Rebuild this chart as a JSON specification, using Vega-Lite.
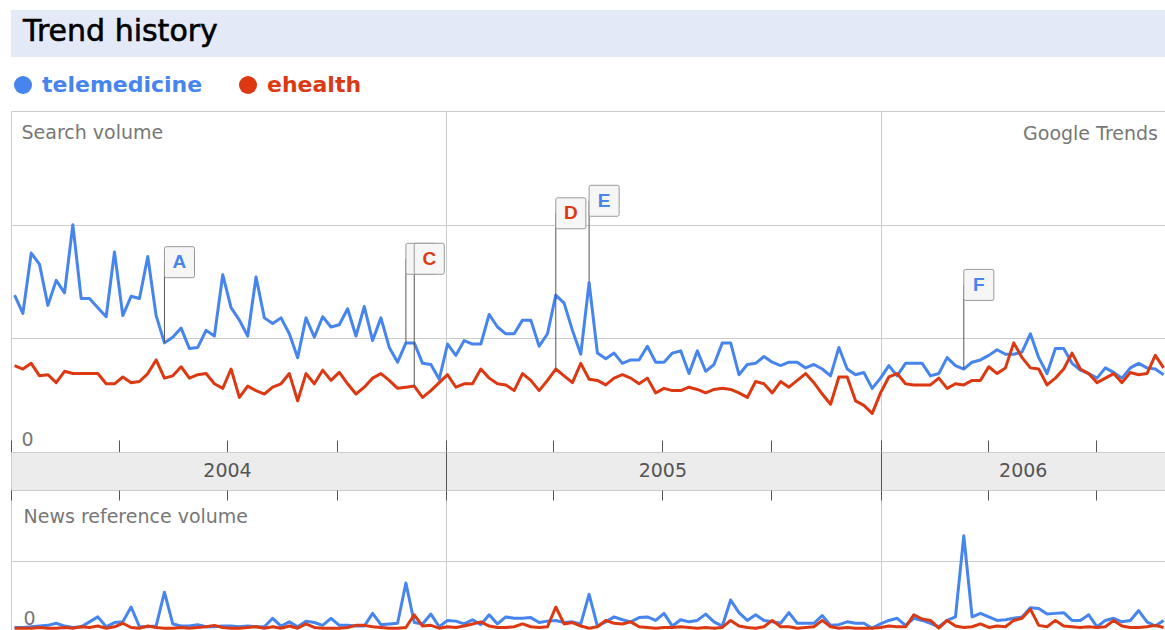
{
"$schema": "https://vega.github.io/schema/vega-lite/v6.json",
"padding": {"left": 10, "top": 10, "right": 0, "bottom": 0},
"background": "white",
"config": {"font": "DejaVu Sans", "view": {"stroke": "#cccccc"}, "axis": {"labelFont": "DejaVu Sans", "titleFont": "DejaVu Sans"}},
"datasets": {
"search": [
{"w":"2004-01-04","telemedicine":1.38,"ehealth":0.76},{"w":"2004-01-11","telemedicine":1.22,"ehealth":0.73},{"w":"2004-01-18","telemedicine":1.75,"ehealth":0.78},{"w":"2004-01-25","telemedicine":1.65,"ehealth":0.67},
{"w":"2004-02-01","telemedicine":1.29,"ehealth":0.68},{"w":"2004-02-08","telemedicine":1.51,"ehealth":0.61},{"w":"2004-02-15","telemedicine":1.40,"ehealth":0.71},{"w":"2004-02-22","telemedicine":2.00,"ehealth":0.69},{"w":"2004-02-29","telemedicine":1.35,"ehealth":0.69},
{"w":"2004-03-07","telemedicine":1.35,"ehealth":0.69},{"w":"2004-03-14","telemedicine":1.27,"ehealth":0.69},{"w":"2004-03-21","telemedicine":1.19,"ehealth":0.60},{"w":"2004-03-28","telemedicine":1.76,"ehealth":0.60},
{"w":"2004-04-04","telemedicine":1.20,"ehealth":0.66},{"w":"2004-04-11","telemedicine":1.37,"ehealth":0.61},{"w":"2004-04-18","telemedicine":1.35,"ehealth":0.62},{"w":"2004-04-25","telemedicine":1.72,"ehealth":0.69},
{"w":"2004-05-02","telemedicine":1.20,"ehealth":0.81},{"w":"2004-05-09","telemedicine":0.96,"ehealth":0.65},{"w":"2004-05-16","telemedicine":1.01,"ehealth":0.67},{"w":"2004-05-23","telemedicine":1.09,"ehealth":0.75},{"w":"2004-05-30","telemedicine":0.91,"ehealth":0.65},
{"w":"2004-06-06","telemedicine":0.92,"ehealth":0.68},{"w":"2004-06-13","telemedicine":1.07,"ehealth":0.69},{"w":"2004-06-20","telemedicine":1.02,"ehealth":0.60},{"w":"2004-06-27","telemedicine":1.56,"ehealth":0.56},
{"w":"2004-07-04","telemedicine":1.27,"ehealth":0.73},{"w":"2004-07-11","telemedicine":1.16,"ehealth":0.48},{"w":"2004-07-18","telemedicine":1.02,"ehealth":0.58},{"w":"2004-07-25","telemedicine":1.54,"ehealth":0.54},
{"w":"2004-08-01","telemedicine":1.18,"ehealth":0.51},{"w":"2004-08-08","telemedicine":1.13,"ehealth":0.57},{"w":"2004-08-15","telemedicine":1.18,"ehealth":0.60},{"w":"2004-08-22","telemedicine":1.04,"ehealth":0.69},{"w":"2004-08-29","telemedicine":0.83,"ehealth":0.45},
{"w":"2004-09-05","telemedicine":1.18,"ehealth":0.69},{"w":"2004-09-12","telemedicine":1.01,"ehealth":0.60},{"w":"2004-09-19","telemedicine":1.19,"ehealth":0.72},{"w":"2004-09-26","telemedicine":1.10,"ehealth":0.63},
{"w":"2004-10-03","telemedicine":1.12,"ehealth":0.70},{"w":"2004-10-10","telemedicine":1.26,"ehealth":0.60},{"w":"2004-10-17","telemedicine":1.02,"ehealth":0.51},{"w":"2004-10-24","telemedicine":1.28,"ehealth":0.57},{"w":"2004-10-31","telemedicine":0.98,"ehealth":0.65},
{"w":"2004-11-07","telemedicine":1.18,"ehealth":0.69},{"w":"2004-11-14","telemedicine":0.92,"ehealth":0.63},{"w":"2004-11-21","telemedicine":0.79,"ehealth":0.56},{"w":"2004-11-28","telemedicine":0.96,"ehealth":0.57},
{"w":"2004-12-05","telemedicine":0.96,"ehealth":0.58},{"w":"2004-12-12","telemedicine":0.78,"ehealth":0.48},{"w":"2004-12-19","telemedicine":0.77,"ehealth":0.54},{"w":"2004-12-26","telemedicine":0.64,"ehealth":0.61},
{"w":"2005-01-02","telemedicine":0.95,"ehealth":0.68},{"w":"2005-01-09","telemedicine":0.85,"ehealth":0.57},{"w":"2005-01-16","telemedicine":0.98,"ehealth":0.60},{"w":"2005-01-23","telemedicine":0.95,"ehealth":0.60},{"w":"2005-01-30","telemedicine":0.95,"ehealth":0.73},
{"w":"2005-02-06","telemedicine":1.21,"ehealth":0.65},{"w":"2005-02-13","telemedicine":1.10,"ehealth":0.60},{"w":"2005-02-20","telemedicine":1.04,"ehealth":0.59},{"w":"2005-02-27","telemedicine":1.04,"ehealth":0.54},
{"w":"2005-03-06","telemedicine":1.16,"ehealth":0.69},{"w":"2005-03-13","telemedicine":1.16,"ehealth":0.63},{"w":"2005-03-20","telemedicine":0.93,"ehealth":0.54},{"w":"2005-03-27","telemedicine":1.04,"ehealth":0.63},
{"w":"2005-04-03","telemedicine":1.38,"ehealth":0.73},{"w":"2005-04-10","telemedicine":1.31,"ehealth":0.67},{"w":"2005-04-17","telemedicine":1.07,"ehealth":0.61},{"w":"2005-04-24","telemedicine":0.86,"ehealth":0.78},
{"w":"2005-05-01","telemedicine":1.49,"ehealth":0.64},{"w":"2005-05-08","telemedicine":0.87,"ehealth":0.63},{"w":"2005-05-15","telemedicine":0.82,"ehealth":0.59},{"w":"2005-05-22","telemedicine":0.87,"ehealth":0.65},{"w":"2005-05-29","telemedicine":0.78,"ehealth":0.68},
{"w":"2005-06-05","telemedicine":0.81,"ehealth":0.65},{"w":"2005-06-12","telemedicine":0.81,"ehealth":0.60},{"w":"2005-06-19","telemedicine":0.93,"ehealth":0.65},{"w":"2005-06-26","telemedicine":0.79,"ehealth":0.52},
{"w":"2005-07-03","telemedicine":0.79,"ehealth":0.56},{"w":"2005-07-10","telemedicine":0.87,"ehealth":0.54},{"w":"2005-07-17","telemedicine":0.89,"ehealth":0.54},{"w":"2005-07-24","telemedicine":0.69,"ehealth":0.57},{"w":"2005-07-31","telemedicine":0.89,"ehealth":0.55},
{"w":"2005-08-07","telemedicine":0.71,"ehealth":0.52},{"w":"2005-08-14","telemedicine":0.77,"ehealth":0.55},{"w":"2005-08-21","telemedicine":0.96,"ehealth":0.56},{"w":"2005-08-28","telemedicine":0.96,"ehealth":0.55},
{"w":"2005-09-04","telemedicine":0.68,"ehealth":0.52},{"w":"2005-09-11","telemedicine":0.77,"ehealth":0.48},{"w":"2005-09-18","telemedicine":0.78,"ehealth":0.62},{"w":"2005-09-25","telemedicine":0.84,"ehealth":0.60},
{"w":"2005-10-02","telemedicine":0.79,"ehealth":0.52},{"w":"2005-10-09","telemedicine":0.76,"ehealth":0.62},{"w":"2005-10-16","telemedicine":0.79,"ehealth":0.57},{"w":"2005-10-23","telemedicine":0.79,"ehealth":0.63},{"w":"2005-10-30","telemedicine":0.74,"ehealth":0.69},
{"w":"2005-11-06","telemedicine":0.77,"ehealth":0.61},{"w":"2005-11-13","telemedicine":0.73,"ehealth":0.51},{"w":"2005-11-20","telemedicine":0.67,"ehealth":0.42},{"w":"2005-11-27","telemedicine":0.92,"ehealth":0.66},
{"w":"2005-12-04","telemedicine":0.73,"ehealth":0.66},{"w":"2005-12-11","telemedicine":0.68,"ehealth":0.45},{"w":"2005-12-18","telemedicine":0.70,"ehealth":0.41},{"w":"2005-12-25","telemedicine":0.56,"ehealth":0.34},
{"w":"2006-01-01","telemedicine":0.65,"ehealth":0.52},{"w":"2006-01-08","telemedicine":0.76,"ehealth":0.66},{"w":"2006-01-15","telemedicine":0.67,"ehealth":0.69},{"w":"2006-01-22","telemedicine":0.78,"ehealth":0.60},{"w":"2006-01-29","telemedicine":0.78,"ehealth":0.59},
{"w":"2006-02-05","telemedicine":0.78,"ehealth":0.59},{"w":"2006-02-12","telemedicine":0.67,"ehealth":0.59},{"w":"2006-02-19","telemedicine":0.69,"ehealth":0.65},{"w":"2006-02-26","telemedicine":0.83,"ehealth":0.56},
{"w":"2006-03-05","telemedicine":0.76,"ehealth":0.60},{"w":"2006-03-12","telemedicine":0.73,"ehealth":0.59},{"w":"2006-03-19","telemedicine":0.79,"ehealth":0.63},{"w":"2006-03-26","telemedicine":0.81,"ehealth":0.63},
{"w":"2006-04-02","telemedicine":0.85,"ehealth":0.75},{"w":"2006-04-09","telemedicine":0.90,"ehealth":0.69},{"w":"2006-04-16","telemedicine":0.86,"ehealth":0.74},{"w":"2006-04-23","telemedicine":0.86,"ehealth":0.96},{"w":"2006-04-30","telemedicine":0.88,"ehealth":0.83},
{"w":"2006-05-07","telemedicine":1.04,"ehealth":0.74},{"w":"2006-05-14","telemedicine":0.83,"ehealth":0.73},{"w":"2006-05-21","telemedicine":0.69,"ehealth":0.59},{"w":"2006-05-28","telemedicine":0.91,"ehealth":0.65},
{"w":"2006-06-04","telemedicine":0.91,"ehealth":0.73},{"w":"2006-06-11","telemedicine":0.78,"ehealth":0.87},{"w":"2006-06-18","telemedicine":0.72,"ehealth":0.73},{"w":"2006-06-25","telemedicine":0.69,"ehealth":0.69},
{"w":"2006-07-02","telemedicine":0.65,"ehealth":0.61},{"w":"2006-07-09","telemedicine":0.74,"ehealth":0.65},{"w":"2006-07-16","telemedicine":0.70,"ehealth":0.69},{"w":"2006-07-23","telemedicine":0.65,"ehealth":0.61},{"w":"2006-07-30","telemedicine":0.74,"ehealth":0.70},
{"w":"2006-08-06","telemedicine":0.78,"ehealth":0.68},{"w":"2006-08-13","telemedicine":0.74,"ehealth":0.69},{"w":"2006-08-20","telemedicine":0.73,"ehealth":0.85},{"w":"2006-08-27","telemedicine":0.68,"ehealth":0.74}
],
"news": [
{"w":"2004-01-04","telemedicine":0.05,"ehealth":0.04},{"w":"2004-01-11","telemedicine":0.05,"ehealth":0.04},{"w":"2004-01-18","telemedicine":0.06,"ehealth":0.04},{"w":"2004-01-25","telemedicine":0.07,"ehealth":0.05},
{"w":"2004-02-01","telemedicine":0.08,"ehealth":0.04},{"w":"2004-02-08","telemedicine":0.11,"ehealth":0.04},{"w":"2004-02-15","telemedicine":0.07,"ehealth":0.05},{"w":"2004-02-22","telemedicine":0.05,"ehealth":0.04},{"w":"2004-02-29","telemedicine":0.06,"ehealth":0.06},
{"w":"2004-03-07","telemedicine":0.13,"ehealth":0.05},{"w":"2004-03-14","telemedicine":0.20,"ehealth":0.07},{"w":"2004-03-21","telemedicine":0.06,"ehealth":0.04},{"w":"2004-03-28","telemedicine":0.12,"ehealth":0.06},
{"w":"2004-04-04","telemedicine":0.13,"ehealth":0.11},{"w":"2004-04-11","telemedicine":0.34,"ehealth":0.05},{"w":"2004-04-18","telemedicine":0.06,"ehealth":0.04},{"w":"2004-04-25","telemedicine":0.06,"ehealth":0.07},
{"w":"2004-05-02","telemedicine":0.07,"ehealth":0.05},{"w":"2004-05-09","telemedicine":0.55,"ehealth":0.04},{"w":"2004-05-16","telemedicine":0.10,"ehealth":0.04},{"w":"2004-05-23","telemedicine":0.07,"ehealth":0.05},{"w":"2004-05-30","telemedicine":0.07,"ehealth":0.04},
{"w":"2004-06-06","telemedicine":0.09,"ehealth":0.05},{"w":"2004-06-13","telemedicine":0.06,"ehealth":0.06},{"w":"2004-06-20","telemedicine":0.06,"ehealth":0.08},{"w":"2004-06-27","telemedicine":0.07,"ehealth":0.05},
{"w":"2004-07-04","telemedicine":0.07,"ehealth":0.04},{"w":"2004-07-11","telemedicine":0.06,"ehealth":0.04},{"w":"2004-07-18","telemedicine":0.07,"ehealth":0.05},{"w":"2004-07-25","telemedicine":0.06,"ehealth":0.06},
{"w":"2004-08-01","telemedicine":0.06,"ehealth":0.04},{"w":"2004-08-08","telemedicine":0.18,"ehealth":0.06},{"w":"2004-08-15","telemedicine":0.07,"ehealth":0.04},{"w":"2004-08-22","telemedicine":0.13,"ehealth":0.07},{"w":"2004-08-29","telemedicine":0.06,"ehealth":0.04},
{"w":"2004-09-05","telemedicine":0.14,"ehealth":0.10},{"w":"2004-09-12","telemedicine":0.12,"ehealth":0.05},{"w":"2004-09-19","telemedicine":0.08,"ehealth":0.04},{"w":"2004-09-26","telemedicine":0.18,"ehealth":0.04},
{"w":"2004-10-03","telemedicine":0.08,"ehealth":0.04},{"w":"2004-10-10","telemedicine":0.08,"ehealth":0.05},{"w":"2004-10-17","telemedicine":0.07,"ehealth":0.08},{"w":"2004-10-24","telemedicine":0.07,"ehealth":0.08},{"w":"2004-10-31","telemedicine":0.25,"ehealth":0.06},
{"w":"2004-11-07","telemedicine":0.09,"ehealth":0.05},{"w":"2004-11-14","telemedicine":0.10,"ehealth":0.04},{"w":"2004-11-21","telemedicine":0.11,"ehealth":0.04},{"w":"2004-11-28","telemedicine":0.68,"ehealth":0.05},
{"w":"2004-12-05","telemedicine":0.12,"ehealth":0.23},{"w":"2004-12-12","telemedicine":0.10,"ehealth":0.07},{"w":"2004-12-19","telemedicine":0.24,"ehealth":0.08},{"w":"2004-12-26","telemedicine":0.06,"ehealth":0.04},
{"w":"2005-01-02","telemedicine":0.15,"ehealth":0.06},{"w":"2005-01-09","telemedicine":0.14,"ehealth":0.05},{"w":"2005-01-16","telemedicine":0.10,"ehealth":0.07},{"w":"2005-01-23","telemedicine":0.16,"ehealth":0.10},{"w":"2005-01-30","telemedicine":0.09,"ehealth":0.13},
{"w":"2005-02-06","telemedicine":0.23,"ehealth":0.07},{"w":"2005-02-13","telemedicine":0.10,"ehealth":0.05},{"w":"2005-02-20","telemedicine":0.20,"ehealth":0.05},{"w":"2005-02-27","telemedicine":0.18,"ehealth":0.06},
{"w":"2005-03-06","telemedicine":0.18,"ehealth":0.10},{"w":"2005-03-13","telemedicine":0.19,"ehealth":0.06},{"w":"2005-03-20","telemedicine":0.12,"ehealth":0.05},{"w":"2005-03-27","telemedicine":0.14,"ehealth":0.06},
{"w":"2005-04-03","telemedicine":0.15,"ehealth":0.34},{"w":"2005-04-10","telemedicine":0.12,"ehealth":0.10},{"w":"2005-04-17","telemedicine":0.13,"ehealth":0.12},{"w":"2005-04-24","telemedicine":0.10,"ehealth":0.07},
{"w":"2005-05-01","telemedicine":0.52,"ehealth":0.04},{"w":"2005-05-08","telemedicine":0.07,"ehealth":0.06},{"w":"2005-05-15","telemedicine":0.13,"ehealth":0.15},{"w":"2005-05-22","telemedicine":0.20,"ehealth":0.11},{"w":"2005-05-29","telemedicine":0.16,"ehealth":0.10},
{"w":"2005-06-05","telemedicine":0.13,"ehealth":0.13},{"w":"2005-06-12","telemedicine":0.19,"ehealth":0.06},{"w":"2005-06-19","telemedicine":0.20,"ehealth":0.05},{"w":"2005-06-26","telemedicine":0.15,"ehealth":0.04},
{"w":"2005-07-03","telemedicine":0.25,"ehealth":0.05},{"w":"2005-07-10","telemedicine":0.07,"ehealth":0.05},{"w":"2005-07-17","telemedicine":0.16,"ehealth":0.06},{"w":"2005-07-24","telemedicine":0.13,"ehealth":0.05},{"w":"2005-07-31","telemedicine":0.15,"ehealth":0.04},
{"w":"2005-08-07","telemedicine":0.24,"ehealth":0.05},{"w":"2005-08-14","telemedicine":0.13,"ehealth":0.04},{"w":"2005-08-21","telemedicine":0.07,"ehealth":0.05},{"w":"2005-08-28","telemedicine":0.44,"ehealth":0.15},
{"w":"2005-09-04","telemedicine":0.26,"ehealth":0.07},{"w":"2005-09-11","telemedicine":0.15,"ehealth":0.05},{"w":"2005-09-18","telemedicine":0.23,"ehealth":0.04},{"w":"2005-09-25","telemedicine":0.15,"ehealth":0.06},
{"w":"2005-10-02","telemedicine":0.13,"ehealth":0.15},{"w":"2005-10-09","telemedicine":0.11,"ehealth":0.06},{"w":"2005-10-16","telemedicine":0.26,"ehealth":0.06},{"w":"2005-10-23","telemedicine":0.11,"ehealth":0.04},{"w":"2005-10-30","telemedicine":0.11,"ehealth":0.05},
{"w":"2005-11-06","telemedicine":0.11,"ehealth":0.06},{"w":"2005-11-13","telemedicine":0.22,"ehealth":0.15},{"w":"2005-11-20","telemedicine":0.08,"ehealth":0.06},{"w":"2005-11-27","telemedicine":0.09,"ehealth":0.04},
{"w":"2005-12-04","telemedicine":0.13,"ehealth":0.05},{"w":"2005-12-11","telemedicine":0.11,"ehealth":0.04},{"w":"2005-12-18","telemedicine":0.11,"ehealth":0.04},{"w":"2005-12-25","telemedicine":0.04,"ehealth":0.04},
{"w":"2006-01-01","telemedicine":0.10,"ehealth":0.05},{"w":"2006-01-08","telemedicine":0.15,"ehealth":0.07},{"w":"2006-01-15","telemedicine":0.18,"ehealth":0.06},{"w":"2006-01-22","telemedicine":0.08,"ehealth":0.06},{"w":"2006-01-29","telemedicine":0.18,"ehealth":0.23},
{"w":"2006-02-05","telemedicine":0.15,"ehealth":0.17},{"w":"2006-02-12","telemedicine":0.11,"ehealth":0.15},{"w":"2006-02-19","telemedicine":0.06,"ehealth":0.04},{"w":"2006-02-26","telemedicine":0.15,"ehealth":0.15},
{"w":"2006-03-05","telemedicine":0.20,"ehealth":0.07},{"w":"2006-03-12","telemedicine":1.35,"ehealth":0.05},{"w":"2006-03-19","telemedicine":0.20,"ehealth":0.06},{"w":"2006-03-26","telemedicine":0.25,"ehealth":0.10},
{"w":"2006-04-02","telemedicine":0.20,"ehealth":0.05},{"w":"2006-04-09","telemedicine":0.15,"ehealth":0.07},{"w":"2006-04-16","telemedicine":0.16,"ehealth":0.06},{"w":"2006-04-23","telemedicine":0.18,"ehealth":0.15},{"w":"2006-04-30","telemedicine":0.20,"ehealth":0.18},
{"w":"2006-05-07","telemedicine":0.33,"ehealth":0.31},{"w":"2006-05-14","telemedicine":0.32,"ehealth":0.08},{"w":"2006-05-21","telemedicine":0.24,"ehealth":0.06},{"w":"2006-05-28","telemedicine":0.25,"ehealth":0.15},
{"w":"2006-06-04","telemedicine":0.26,"ehealth":0.07},{"w":"2006-06-11","telemedicine":0.15,"ehealth":0.06},{"w":"2006-06-18","telemedicine":0.15,"ehealth":0.05},{"w":"2006-06-25","telemedicine":0.23,"ehealth":0.06},
{"w":"2006-07-02","telemedicine":0.06,"ehealth":0.05},{"w":"2006-07-09","telemedicine":0.15,"ehealth":0.06},{"w":"2006-07-16","telemedicine":0.18,"ehealth":0.15},{"w":"2006-07-23","telemedicine":0.13,"ehealth":0.07},{"w":"2006-07-30","telemedicine":0.15,"ehealth":0.05},
{"w":"2006-08-06","telemedicine":0.29,"ehealth":0.05},{"w":"2006-08-13","telemedicine":0.13,"ehealth":0.06},{"w":"2006-08-20","telemedicine":0.07,"ehealth":0.08},{"w":"2006-08-27","telemedicine":0.15,"ehealth":0.05}
],
"flags": [
{"flag":"A","date":"2004-05-09","term":"telemedicine","box":1.67,"point":0.96},
{"flag":"B","date":"2004-11-28","term":"telemedicine","box":1.70,"point":0.96},
{"flag":"C","date":"2004-12-05","term":"ehealth","box":1.70,"point":0.58},
{"flag":"D","date":"2005-04-03","term":"ehealth","box":2.10,"point":0.73},
{"flag":"E","date":"2005-05-01","term":"telemedicine","box":2.21,"point":1.49},
{"flag":"F","date":"2006-03-12","term":"telemedicine","box":1.47,"point":0.73}
]
},
"spacing": 54,
"bounds": "flush",
"vconcat": [
{
 "width": 1155, "height": 47,
 "view": {"fill": "#e3e9f7", "stroke": null},
 "data": {"values": [{"label": "Trend history"}]},
 "mark": {"type": "text", "align": "left", "baseline": "alphabetic", "dx": 12, "dy": 7, "fontSize": 30, "color": "#000000", "font": "DejaVu Sans", "stroke": "#000000", "strokeWidth": 0.6},
 "encoding": {
  "text": {"field": "label", "type": "nominal"},
  "x": {"datum": 0, "type": "quantitative", "scale": {"domain": [0, 1]}, "axis": null}
 }
},
{
 "spacing": 0,
 "bounds": "flush",
 "vconcat": [
 {
  "width": 1155, "height": 341,
  "title": {"text": "Google Trends", "anchor": "end", "orient": "top", "frame": "group", "offset": -33, "baseline": "top", "fontSize": 19, "fontWeight": "normal", "color": "#777777", "dx": -8, "font": "DejaVu Sans"},
  "layer": [
   {
    "data": {"name": "search"},
    "transform": [{"fold": ["telemedicine", "ehealth"], "as": ["term", "v"]}],
    "mark": {"type": "line", "strokeWidth": 3, "strokeJoin": "round"},
    "encoding": {
     "x": {"field": "w", "type": "temporal", "scale": {"type": "utc", "domain": [1072915200000, 1156809600000]},
       "axis": {"values": [1072915200000,1080777600000,1088640000000,1096588800000,1104537600000,1112313600000,1120176000000,1128124800000,1136073600000,1143849600000,1151712000000],
         "labels": false, "domain": false, "ticks": true, "tickSize": -12, "tickColor": "#555555", "grid": true, "gridColor": "#cccccc",
         "gridOpacity": {"condition": {"test": "utcmonth(datum.value) == 0", "value": 1}, "value": 0}, "title": null}},
     "y": {"field": "v", "type": "quantitative", "scale": {"domain": [0, 3]},
       "axis": {"values": [0, 1, 2], "grid": true, "gridColor": "#cccccc", "domain": false, "ticks": false, "tickSize": 0,
         "labelExpr": "datum.value == 0 ? '0' : ''", "labelAlign": "left", "labelBaseline": "alphabetic", "labelPadding": -10, "labelOffset": -7,
         "labelFontSize": 19, "labelColor": "#777777",
         "title": "Search volume", "titleAngle": 0, "titleAlign": "left", "titleBaseline": "top", "titleX": 10, "titleY": 12,
         "titleFontSize": 19, "titleFontWeight": "normal", "titleColor": "#777777"}},
     "color": {"field": "term", "type": "nominal", "scale": {"domain": ["telemedicine", "ehealth"], "range": ["#4684ee", "#dc3912"]},
       "legend": {"orient": "none", "legendX": 1, "legendY": 64, "direction": "horizontal", "title": null, "symbolType": "circle", "symbolSize": 324,
         "labelFontSize": 22, "labelFontWeight": "bold", "labelFont": "DejaVu Sans", "labelOffset": 8, "labelLimit": 0, "columnPadding": 34, "symbolStrokeWidth": 0,
         "encode": {"symbols": {"update": {"fill": {"scale": "color", "field": "value"}, "stroke": {"value": "transparent"}}},
                    "labels": {"update": {"fill": {"scale": "color", "field": "value"}}}}}}
    }
   },
   {
    "data": {"name": "flags"},
    "mark": {"type": "rule", "color": "#555555", "strokeWidth": 1},
    "encoding": {
     "x": {"field": "date", "type": "temporal"},
     "y": {"field": "box", "type": "quantitative"},
     "y2": {"field": "point"}
    }
   },
   {
    "data": {"name": "flags"},
    "mark": {"type": "point", "shape": "M0.12,-1L1.82,-1Q1.94,-1 1.94,-0.88L1.94,0.88Q1.94,1 1.82,1L0.12,1Q0,1 0,0.88L0,-0.88Q0,-1 0.12,-1Z", "size": 961, "filled": true, "fill": "#f6f6f6", "stroke": "#999999", "strokeWidth": 1, "opacity": 1},
    "encoding": {
     "x": {"field": "date", "type": "temporal"},
     "y": {"field": "box", "type": "quantitative"}
    }
   },
   {
    "data": {"name": "flags"},
    "transform": [{"filter": "datum.flag != 'B'"}],
    "mark": {"type": "text", "dx": 15, "fontSize": 19, "fontWeight": "bold", "font": "Liberation Sans", "baseline": "middle", "align": "center"},
    "encoding": {
     "x": {"field": "date", "type": "temporal"},
     "y": {"field": "box", "type": "quantitative"},
     "text": {"field": "flag", "type": "nominal"},
     "color": {"field": "term", "type": "nominal"}
    }
   }
  ]
 },
 {
  "width": 1155, "height": 38,
  "view": {"fill": "#ececec", "stroke": "#cccccc"},
  "data": {"values": [{"year": "2004", "mid": "2004-07-01"}, {"year": "2005", "mid": "2005-07-02"}, {"year": "2006", "mid": "2006-05-01"}]},
  "mark": {"type": "text", "fontSize": 19, "color": "#555555", "baseline": "middle", "font": "DejaVu Sans"},
  "encoding": {
   "x": {"field": "mid", "type": "temporal", "scale": {"type": "utc", "domain": [1072915200000, 1156809600000]},
     "axis": {"values": [1104537600000, 1136073600000], "labels": false, "ticks": false, "domain": false, "grid": true, "gridColor": "#555555", "title": null}},
   "text": {"field": "year", "type": "nominal"}
  }
 },
 {
  "width": 1155, "height": 141,
  "data": {"name": "news"},
  "transform": [{"fold": ["telemedicine", "ehealth"], "as": ["term", "v"]}],
  "mark": {"type": "line", "strokeWidth": 3, "strokeJoin": "round"},
  "encoding": {
   "x": {"field": "w", "type": "temporal", "scale": {"type": "utc", "domain": [1072915200000, 1156809600000]},
     "axis": {"orient": "top", "values": [1072915200000,1080777600000,1088640000000,1096588800000,1104537600000,1112313600000,1120176000000,1128124800000,1136073600000,1143849600000,1151712000000],
       "labels": false, "domain": false, "ticks": true, "tickSize": -10, "tickColor": "#555555", "grid": true, "gridColor": "#cccccc",
       "gridOpacity": {"condition": {"test": "utcmonth(datum.value) == 0", "value": 1}, "value": 0}, "title": null}},
   "y": {"field": "v", "type": "quantitative", "scale": {"domain": [0, 2]},
     "axis": {"values": [0, 1], "grid": true, "gridColor": "#cccccc", "domain": false, "ticks": false, "tickSize": 0,
       "labelExpr": "datum.value == 0 ? '0' : ''", "labelAlign": "left", "labelBaseline": "alphabetic", "labelPadding": -12, "labelOffset": -7,
       "labelFontSize": 19, "labelColor": "#777777",
       "title": "News reference volume", "titleAngle": 0, "titleAlign": "left", "titleBaseline": "top", "titleX": 12, "titleY": 17,
       "titleFontSize": 19, "titleFontWeight": "normal", "titleColor": "#777777"}},
   "color": {"field": "term", "type": "nominal", "scale": {"domain": ["telemedicine", "ehealth"], "range": ["#4684ee", "#dc3912"]}}
  }
 }
 ]
}
]
}
